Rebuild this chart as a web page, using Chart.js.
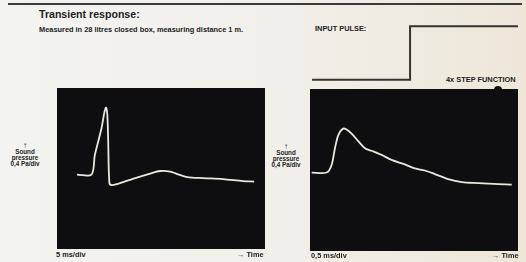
<!DOCTYPE html>
<html>
<head>
<meta charset="utf-8">
<script src="https://cdn.jsdelivr.net/npm/chart.js@4"></script>
<style>
  body { margin: 0; }
  #page {
    position: relative; width: 526px; height: 262px; overflow: hidden;
    background: linear-gradient(90deg, #f3f3f1 0%, #f1efe9 55%, #eee7d8 100%);
    font-family: "Liberation Sans", Arial, sans-serif; color: #222;
  }
  .abs { position: absolute; }
  .rule { left: 8px; top: 3px; width: 514px; height: 2px; background: #3a3a3a; }
  .title { left: 39px; top: 8px; font-size: 10.6px; font-weight: bold; }
  .sub { left: 39px; top: 25px; font-size: 7.4px; font-weight: bold; white-space: nowrap; }
  .small { font-size: 7.4px; font-weight: bold; line-height: 8px; white-space: nowrap; }
  .ylab { text-align: center; font-size: 6.3px; line-height: 6px; }
  .arrow { font-size: 8px; line-height: 7px; font-weight: normal; }
  canvas { position: absolute; }
</style>
</head>
<body>
<div id="page">
  <div class="abs rule"></div>
  <div class="abs title">Transient response:</div>
  <div class="abs sub">Measured in 28 litres closed box, measuring distance 1 m.</div>

  <div class="abs small" style="left:315px; top:25px;">INPUT PULSE:</div>
  <div class="abs small" style="left:446px; top:76px;">4x STEP FUNCTION</div>
  <canvas id="pulse" width="210" height="58" style="left:310px; top:24px;"></canvas>

  <div class="abs small ylab" style="left:9px; top:142px; width:32px;"><span class="arrow">&#8593;</span><br>Sound<br>pressure<br>0,4 Pa/div</div>
  <div class="abs small ylab" style="left:269px; top:143px; width:34px;"><span class="arrow">&#8593;</span><br>Sound<br>pressure<br>0,4 Pa/div</div>

  <canvas id="left" width="208" height="161" style="left:57px; top:88px;"></canvas>
  <canvas id="right" width="208" height="162" style="left:310px; top:89px;"></canvas>
  <div class="abs" style="left:494px; top:86px; width:8px; height:8px; border-radius:4px; background:#111;"></div>

  <div class="abs small" style="left:56px; top:251px;">5 ms/div</div>
  <div class="abs small" style="left:237px; top:251px;">&#8594; Time</div>
  <div class="abs small" style="left:311px; top:252px;">0,5 ms/div</div>
  <div class="abs small" style="left:492px; top:252px;">&#8594; Time</div>
</div>
<script>
// left trace: 28 l closed box, 5 ms/div
var leftTime = [4.8, 8.3, 9.1, 10.7, 11.4, 11.8, 12.1, 12.3, 12.6, 13.2, 14.4, 15.9, 19.2, 22.4, 24.8, 27.2, 28.9, 31.3, 35.1, 39.9, 44.7, 47.4];
var leftPressure = [-0.12, -0.12, 0.27, 0.80, 1.12, 1.21, 1.06, 0.57, -0.29, -0.33, -0.31, -0.27, -0.18, -0.10, -0.05, -0.06, -0.11, -0.17, -0.19, -0.21, -0.25, -0.26];

// right trace: 0,5 ms/div
var rightTime = [0.04, 0.40, 0.52, 0.60, 0.68, 0.78, 0.86, 1.00, 1.16, 1.32, 1.48, 1.72, 1.96, 2.28, 2.52, 2.76, 3.00, 3.32, 3.65, 4.05, 4.53, 4.85];
var rightPressure = [-0.05, -0.05, 0.10, 0.43, 0.69, 0.81, 0.81, 0.72, 0.57, 0.43, 0.38, 0.30, 0.20, 0.11, 0.03, -0.01, -0.08, -0.18, -0.24, -0.26, -0.28, -0.29];

// input pulse (step)
var pulseTime = [0, 0.476, 0.476, 1];
var pulseLevel = [0, 0, 1, 1];

function toPoints(xs, ys) {
    return xs.map(function (x, i) { return { x: x, y: ys[i] }; });
}

var screenBg = {
    id: 'screenBg',
    beforeDraw: function (chart) {
        var a = chart.chartArea;
        var c = chart.ctx;
        c.save();
        c.fillStyle = '#0e0e10';
        c.fillRect(a.left, a.top, a.right - a.left, a.bottom - a.top);
        c.restore();
    }
};

function scopeChart(id, xs, ys, xmax) {
    var ctx = document.getElementById(id).getContext('2d');
    return new Chart(ctx, {
        type: 'line',
        data: {
            datasets: [{
                data: toPoints(xs, ys),
                borderColor: '#e8e8de',
                borderWidth: 1.8,
                tension: 0.3,
                pointRadius: 0
            }]
        },
        options: {
            responsive: false,
            animation: false,
            layout: { padding: 0 },
            plugins: { legend: { display: false }, tooltip: { enabled: false } },
            scales: {
                x: { type: 'linear', min: 0, max: xmax, display: false },
                y: { min: -1.6, max: 1.6, display: false }
            }
        },
        plugins: [screenBg]
    });
}

var leftChart = scopeChart('left', leftTime, leftPressure, 50);
var rightChart = scopeChart('right', rightTime, rightPressure, 5);

var pulseChart = new Chart(document.getElementById('pulse').getContext('2d'), {
    type: 'line',
    data: {
        datasets: [{
            data: toPoints(pulseTime, pulseLevel),
            borderColor: '#333',
            borderWidth: 2,
            tension: 0,
            pointRadius: 0
        }]
    },
    options: {
        responsive: false,
        animation: false,
        layout: { padding: 0 },
        plugins: { legend: { display: false }, tooltip: { enabled: false } },
        scales: {
            x: { type: 'linear', min: -0.01, max: 1.01, display: false },
            y: { min: -0.04, max: 1.04, display: false }
        }
    }
});
</script>
</body>
</html>
